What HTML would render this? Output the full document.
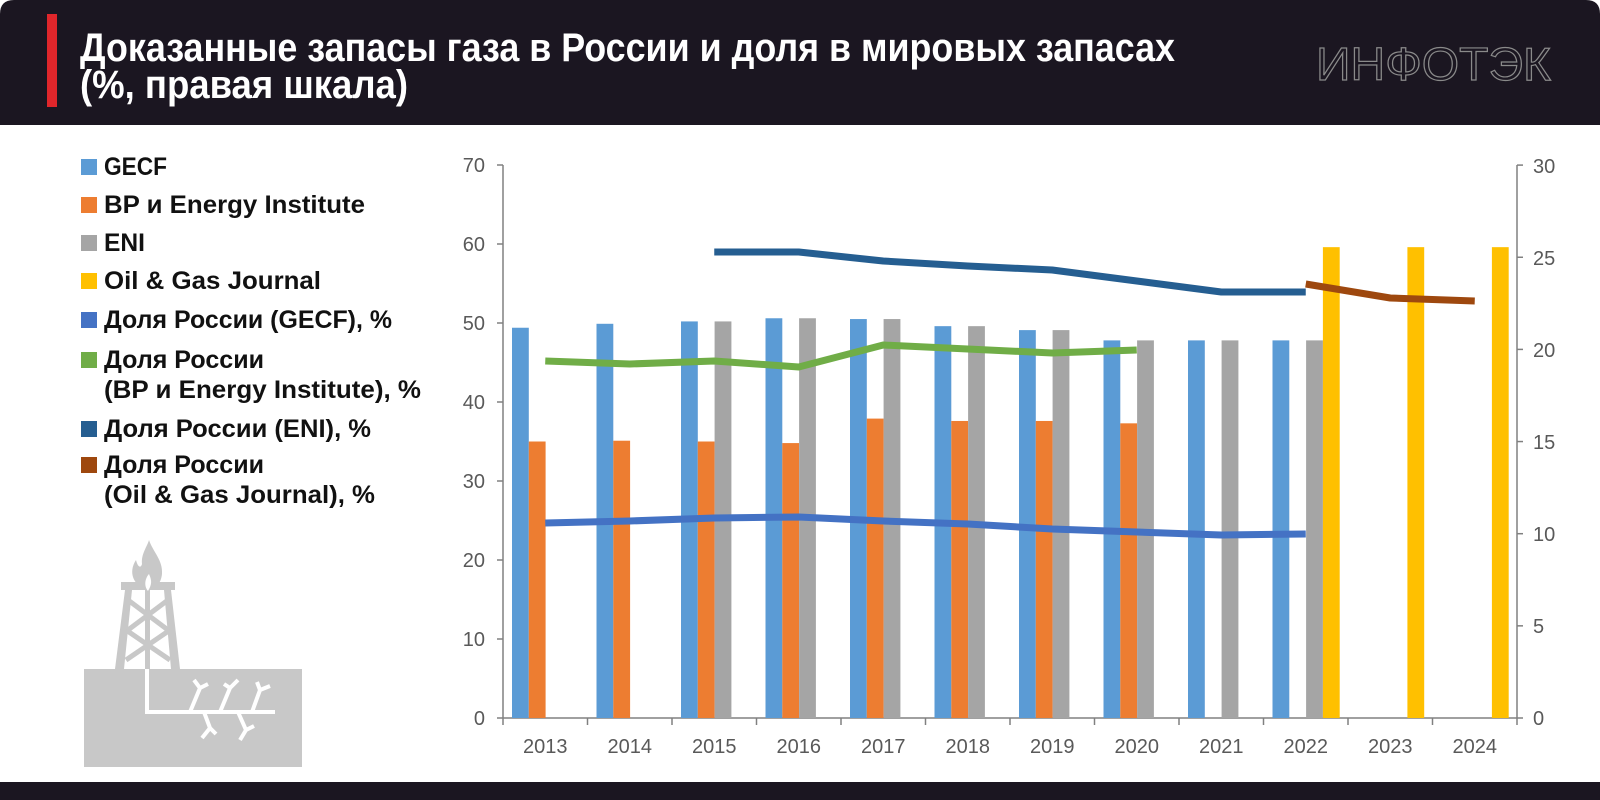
<!DOCTYPE html>
<html><head><meta charset="utf-8"><style>
html,body{margin:0;padding:0;background:#fff;}
svg{display:block;font-family:"Liberation Sans","DejaVu Sans",sans-serif;}
</style></head><body>
<svg width="1600" height="800" viewBox="0 0 1600 800" xmlns="http://www.w3.org/2000/svg">
<rect width="1600" height="800" fill="#fff"/>
<path d="M0 125 V14 Q0 0 14 0 H1586 Q1600 0 1600 14 V125 Z" fill="#1b1621"/>
<rect x="0" y="782" width="1600" height="18" fill="#1b1621"/>
<rect x="47" y="14" width="10" height="93" fill="#e0262b"/>
<text x="80" y="61" fill="#fff" font-size="40" font-weight="bold" textLength="1095" lengthAdjust="spacingAndGlyphs">Доказанные запасы газа в России и доля в мировых запасах</text>
<text x="80" y="98" fill="#fff" font-size="40" font-weight="bold" textLength="328" lengthAdjust="spacingAndGlyphs">(%, правая шкала)</text>
<text x="1316" y="80" fill="none" stroke="#8a8a8a" stroke-width="1.2" font-size="46" textLength="235" lengthAdjust="spacingAndGlyphs">ИНФОТЭК</text>

<g font-size="25" font-weight="bold" fill="#111">
<rect x="81" y="159" width="16" height="16" fill="#5b9bd5"/><text x="104" y="175" textLength="63" lengthAdjust="spacingAndGlyphs">GECF</text>
<rect x="81" y="197" width="16" height="16" fill="#ed7d31"/><text x="104" y="213" textLength="261" lengthAdjust="spacingAndGlyphs">BP и Energy Institute</text>
<rect x="81" y="235" width="16" height="16" fill="#a5a5a5"/><text x="104" y="251" textLength="41" lengthAdjust="spacingAndGlyphs">ENI</text>
<rect x="81" y="273" width="16" height="16" fill="#ffc000"/><text x="104" y="289" textLength="217" lengthAdjust="spacingAndGlyphs">Oil &amp; Gas Journal</text>
<rect x="81" y="312" width="16" height="16" fill="#4472c4"/><text x="104" y="328" textLength="288" lengthAdjust="spacingAndGlyphs">Доля России (GECF), %</text>
<rect x="81" y="352" width="16" height="16" fill="#70ad47"/><text x="104" y="368" textLength="160" lengthAdjust="spacingAndGlyphs">Доля России</text>
<text x="104" y="398" textLength="317" lengthAdjust="spacingAndGlyphs">(BP и Energy Institute), %</text>
<rect x="81" y="421" width="16" height="16" fill="#255e91"/><text x="104" y="437" textLength="267" lengthAdjust="spacingAndGlyphs">Доля России (ENI), %</text>
<rect x="81" y="457" width="16" height="16" fill="#9e480e"/><text x="104" y="473" textLength="160" lengthAdjust="spacingAndGlyphs">Доля России</text>
<text x="104" y="503" textLength="271" lengthAdjust="spacingAndGlyphs">(Oil &amp; Gas Journal), %</text>
</g>

<g fill="#c8c8c8">
<rect x="84" y="669" width="218" height="98"/>
<path d="M115 669 L125 590 H171 L180 669 H171 L164 590 H132 L124 669 Z"/>
<rect x="121" y="582" width="54" height="8"/>
<rect x="145" y="590" width="5" height="79"/>
<path d="M128 600 L168 630 M168 600 L128 630 M126 630 L170 660 M170 630 L126 660" stroke="#c8c8c8" stroke-width="5"/>
<path d="M148 590 C133 586 128 572 136 560 C138 568 141 568 142 564 C141 554 147 547 149 540 C153 552 163 560 162 574 C161 584 155 589 148 590 Z"/>
</g>
<path d="M148 591 C143 585 146 577 149 574 C151 579 153 583 148 591Z" fill="#fff"/>
<g stroke="#fff" stroke-width="4" fill="none">
<path d="M147 669 V712 H275"/>
<path d="M190 712 L200 688 L194 680 M200 688 L208 684"/>
<path d="M220 712 L230 688 L224 684 M230 688 L238 680"/>
<path d="M252 712 L260 690 L257 682 M260 690 L270 686"/>
<path d="M204 712 L210 728 L202 738 M210 728 L216 734"/>
<path d="M238 712 L246 730 L240 740 M246 730 L254 726"/>
</g>

<g stroke="#808080" stroke-width="1.5">
<line x1="503" y1="165" x2="503" y2="718"/>
<line x1="1517" y1="165" x2="1517" y2="718"/>
<line x1="503" y1="718" x2="1517" y2="718"/>
</g>
<g stroke="#808080" stroke-width="1.5" id="ticks"></g>
<g fill="#595959" font-size="20" text-anchor="end">
<text x="485" y="725">0</text><text x="485" y="646">10</text><text x="485" y="567">20</text><text x="485" y="488">30</text><text x="485" y="409">40</text><text x="485" y="330">50</text><text x="485" y="251">60</text><text x="485" y="172">70</text>
</g>
<g fill="#595959" font-size="20" text-anchor="start">
<text x="1533" y="725">0</text><text x="1533" y="633">5</text><text x="1533" y="541">10</text><text x="1533" y="449">15</text><text x="1533" y="357">20</text><text x="1533" y="265">25</text><text x="1533" y="173">30</text>
</g>
<g id="chart"></g>
</svg>
<script>
const NS="http://www.w3.org/2000/svg";
const g=document.getElementById('chart'),tk=document.getElementById('ticks');
function el(p,n,a){const e=document.createElementNS(NS,n);for(const k in a)e.setAttribute(k,a[k]);p.appendChild(e);return e;}
for(let v=0;v<=70;v+=10){const y=718-v*7.9;el(tk,'line',{x1:497,x2:503,y1:y,y2:y});}
for(let v=0;v<=30;v+=5){const y=718-v*18.43;el(tk,'line',{x1:1517,x2:1523,y1:y,y2:y});}
for(let i=0;i<=12;i++){const x=503+84.5*i;el(tk,'line',{x1:x,x2:x,y1:718,y2:725});}
const years=[2013,2014,2015,2016,2017,2018,2019,2020,2021,2022,2023,2024];
const gecf=[49.4,49.9,50.2,50.6,50.5,49.6,49.1,47.8,47.8,47.8,null,null];
const bp=[35,35.1,35,34.8,37.9,37.6,37.6,37.3,null,null,null,null];
const eni=[null,null,50.2,50.6,50.5,49.6,49.1,47.8,47.8,47.8,null,null];
const ogj=[null,null,null,null,null,null,null,null,null,59.6,59.6,59.6];
const sets=[[gecf,'#5b9bd5'],[bp,'#ed7d31'],[eni,'#a5a5a5'],[ogj,'#ffc000']];
const w=16.8;
years.forEach((yr,i)=>{
 const x0=503+84.5*i;
 sets.forEach((s,j)=>{const v=s[0][i];if(v!=null){const h=v*7.9;el(g,'rect',{x:x0+9+j*w,y:718-h,width:w,height:h,fill:s[1]});}});
 const t=el(g,'text',{x:x0+42.25,y:753,'text-anchor':'middle','font-size':20,fill:'#595959'});t.textContent=yr;
});
function line(pts,start,color){
 const d=pts.map((y,k)=>(k?'L':'M')+(545.25+84.5*(start+k))+' '+y).join(' ');
 el(g,'path',{d:d,fill:'none',stroke:color,'stroke-width':7,'stroke-linejoin':'round'});
}
line([523,521,518,517,521,524,529,532,535,534],0,'#4472c4');
line([361,364,361,367,345,349,353,350],0,'#70ad47');
line([252,252,261,266,270,281,292,292],2,'#255e91');
line([284,298,301],9,'#9e480e');
</script>
</body></html>
